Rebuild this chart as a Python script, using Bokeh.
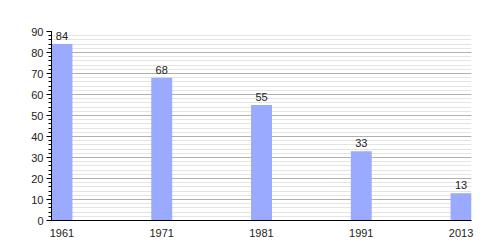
from bokeh.plotting import figure
from bokeh.models import ColumnDataSource, SingleIntervalTicker, FixedTicker, Range1d
from bokeh.core.properties import value
from bokeh.embed import file_html
from bokeh.resources import INLINE

years = ["1961", "1971", "1981", "1991", "2013"]
values = [84, 68, 55, 33, 13]

xs = list(range(len(years)))
src = ColumnDataSource(dict(x=xs, top=values, label=[str(v) for v in values]))

p = figure(width=500, height=250, output_backend="svg", toolbar_location=None,
           x_range=Range1d(-0.105, 4.105), y_range=Range1d(0, 90),
           min_border_left=51, min_border_right=29, min_border_top=31, min_border_bottom=30)
p.outline_line_color = None
p.background_fill_color = "white"

p.vbar(x="x", top="top", width=0.21, bottom=0, source=src, fill_color="#99aaff", line_color=None)
p.text(x="x", y="top", text="label", source=src, text_align="center", text_baseline="bottom",
       y_offset=-4, text_font=value("Liberation Sans"), text_font_size="11px", text_color="#222222")

p.yaxis.ticker = SingleIntervalTicker(interval=10, num_minor_ticks=5)
p.yaxis.major_label_text_font = "Liberation Sans"
p.yaxis.major_label_text_font_size = "11px"
p.yaxis.major_label_text_color = "#222222"
p.yaxis.axis_line_color = "black"
p.yaxis.major_tick_line_color = "black"
p.yaxis.minor_tick_line_color = "black"
p.yaxis.major_tick_out = 5
p.yaxis.major_tick_in = 0
p.yaxis.minor_tick_out = 3
p.yaxis.minor_tick_in = 0
p.yaxis.major_label_standoff = 3

p.xaxis.ticker = FixedTicker(ticks=xs)
p.xaxis.major_label_overrides = {i: y for i, y in enumerate(years)}
p.xaxis.major_label_text_font = "Liberation Sans"
p.xaxis.major_label_text_font_size = "11px"
p.xaxis.major_label_text_color = "#222222"
p.xaxis.axis_line_color = "black"
p.xaxis.major_tick_line_color = None
p.xaxis.minor_tick_line_color = None
p.xaxis.major_label_standoff = 2

p.xgrid.grid_line_color = None
p.ygrid.ticker = SingleIntervalTicker(interval=10, num_minor_ticks=5)
p.ygrid.grid_line_color = "#b0b0b0"
p.ygrid.minor_grid_line_color = "#e4e4e4"

open("out.html", "w").write(file_html(p, INLINE))
